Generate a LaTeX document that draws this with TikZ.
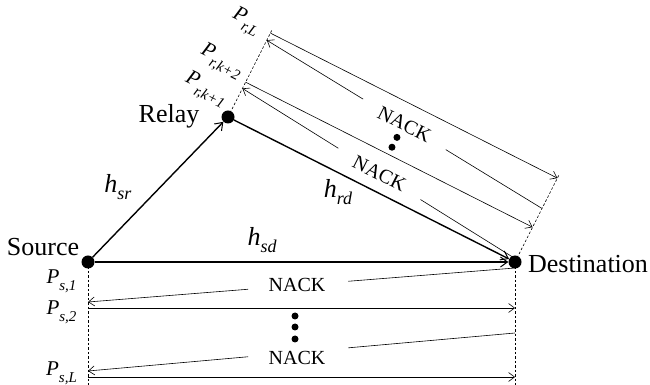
\documentclass[tikz,border=0pt]{standalone}
\usepackage{fontspec}
\setmainfont{Liberation Serif}
\usetikzlibrary{arrows.meta,calc}

% power labels P_{...} and channel labels h_{...}
\newcommand\Plbl[1]{{\fontsize{21}{23}\selectfont\itshape P\raisebox{-0.35em}{\fontsize{15}{15}\selectfont #1}}}
\newcommand\hlbl[1]{{\fontsize{26}{28}\selectfont\itshape h\raisebox{-0.3em}{\fontsize{18}{18}\selectfont #1}}}

\tikzset{
  terminal/.style={circle,fill=black,inner sep=0pt,minimum size=13pt},
  station/.style={font=\fontsize{26}{28}\selectfont,inner sep=0pt},
  link/.style={line width=1.4pt,-{Straight Barb[length=7pt,width=10pt,line width=1pt]}},
  msg/.style={line width=0.6pt,-{Straight Barb[length=6pt,width=9pt]}},
  msgline/.style={line width=0.6pt},
  guide/.style={line width=0.6pt,dash pattern=on 2.5pt off 2pt},
  nack/.style={font=\fontsize{20}{22}\selectfont,inner sep=0pt},
  lbl/.style={inner sep=0pt},
  ellip/.style={circle,fill=black,inner sep=0pt,minimum size=7pt},
}

\begin{document}
\begin{tikzpicture}[x=1pt,y=1pt]
\useasboundingbox (0,0) rectangle (650,385);

% terminals
\node[terminal] (S) at (88,123) {};
\node[terminal] (R) at (228,268) {};
\node[terminal] (D) at (515,123) {};

\node[station] (Sname) at (43,138) {Source};
\node[station] (Rname) at (169,269) {Relay};
\node[station] (Dname) at (588,121) {Destination};

% ---- direct link time axis (source / destination) ----
\coordinate (Sbot) at (88,0);
\coordinate (Dbot) at (515,0);
\draw[guide] (S.center) -- (Sbot);
\draw[guide] (D.center) -- (Dbot);

\coordinate (dn1) at (515,117);
\coordinate (sn1) at (88,83);
\coordinate (s2) at (88,77);
\coordinate (d2) at (515,77);
\coordinate (dn2) at (515,52);
\coordinate (sn2) at (88,14);
\coordinate (sL) at (88,8);
\coordinate (dL) at (515,8);

\draw[msgline] (dn1) -- ($(dn1)!0.39!(sn1)$);
\draw[msg] ($(dn1)!0.625!(sn1)$) -- (sn1);
\node[nack] (nackS1) at (297,100) {NACK};
\draw[msg] (s2) -- (d2);

\node[ellip] (e1) at (295,69) {};
\node[ellip] (e2) at (295,58) {};
\node[ellip] (e3) at (295,46) {};

\draw[msgline] (dn2) -- ($(dn2)!0.39!(sn2)$);
\draw[msg] ($(dn2)!0.625!(sn2)$) -- (sn2);
\node[nack] (nackS2) at (297,27) {NACK};
\draw[msg] (sL) -- (dL);

\node[lbl] (ps1) at (61.5,104) {\Plbl{s,1}};
\node[lbl] (ps2) at (61.5,73) {\Plbl{s,2}};
\node[lbl] (psL) at (61.5,12) {\Plbl{s,L}};

% ---- relay link time axis, drawn along the relay-destination line ----
\begin{scope}[shift={(228,268)},rotate=-26.81]
  \coordinate (rtop) at (0,99);
  \coordinate (dtop) at (321.55,99);
  \coordinate (rn1) at (0,32);
  \coordinate (dm1) at (321.55,3);
  \coordinate (r2) at (0,39);
  \coordinate (dr2) at (321.55,39);
  \coordinate (rn2) at (0,86);
  \coordinate (dm2) at (321.55,60);
  \coordinate (rL) at (0,94);
  \coordinate (drL) at (321.55,94);

  \draw[guide] (R.center) -- (rtop);
  \draw[guide] (D.center) -- (dtop);

  \draw[msgline] (dm1) -- ($(dm1)!0.35!(rn1)$);
  \draw[msg] ($(dm1)!0.65!(rn1)$) -- (rn1);
  \node[nack,rotate=-26.81] (nackR1) at ($(dm1)!0.5!(rn1)$) {NACK};
  \draw[msg] (r2) -- (dr2);

  \node[ellip] (f1) at (160,47) {};
  \node[ellip] (f2) at (160,58) {};

  \draw[msgline] (dm2) -- ($(dm2)!0.35!(rn2)$);
  \draw[msg] ($(dm2)!0.65!(rn2)$) -- (rn2);
  \node[nack,rotate=-26.81] (nackR2) at ($(dm2)!0.5!(rn2)$) {NACK};
  \draw[msg] (rL) -- (drL);

  \node[lbl,rotate=-26.81] (pr1) at (-32,14) {\Plbl{r,k+1}};
  \node[lbl,rotate=-26.81] (pr2) at (-31,46) {\Plbl{r,k+2}};
  \node[lbl,rotate=-26.81] (prL) at (-27,93) {\Plbl{r,L}};
\end{scope}

% ---- channels ----
\draw[link] (S) -- (R);
\draw[link] (R) -- (D);
\draw[link] (S) -- (D);

\node[lbl] (hsr) at (118,198) {\hlbl{sr}};
\node[lbl] (hsd) at (262,145) {\hlbl{sd}};
\node[lbl] (hrd) at (338,193) {\hlbl{rd}};
\end{tikzpicture}
\end{document}
